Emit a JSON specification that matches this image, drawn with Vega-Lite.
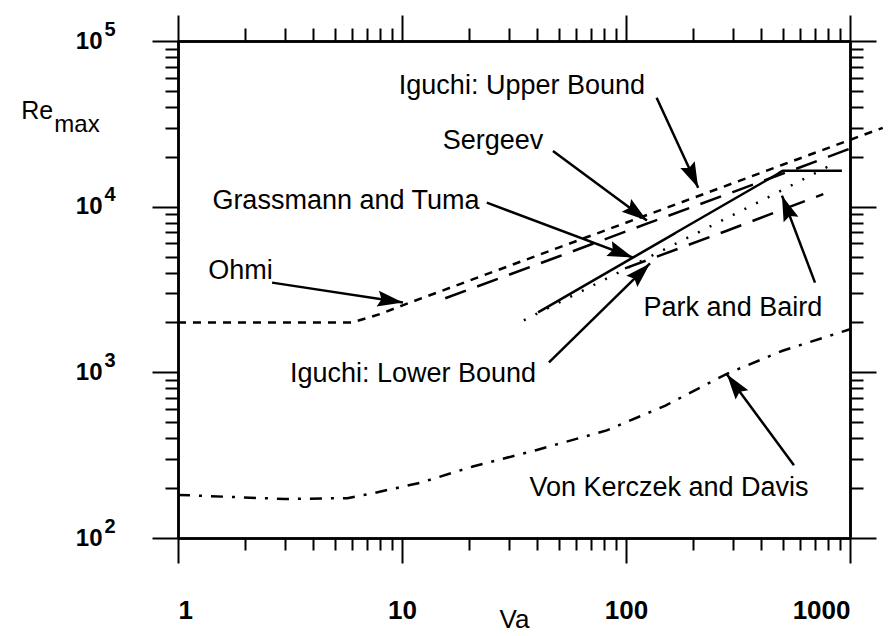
{
  "$schema": "https://vega.github.io/schema/vega-lite/v6.json",
  "width": 672,
  "height": 497,
  "autosize": "none",
  "padding": {"left": 178, "top": 41, "right": 42, "bottom": 98},
  "background": "white",
  "config": {
    "view": {"stroke": null},
    "axis": {"domainColor": "black", "domainWidth": 2.5, "tickColor": "black", "tickWidth": 2, "grid": false, "labelColor": "black", "labelFont": "Liberation Sans", "labelFontWeight": "bold", "labelFontSize": 26, "titleColor": "black", "titleFont": "Liberation Sans", "titleFontWeight": "normal", "labelOverlap": false},
    "text": {"font": "Liberation Sans", "fontSize": 27, "color": "black"}
  },
  "datasets": {
    "curves": [
      {"series": "Ohmi", "Va": 1, "Re": 2000}, {"series": "Ohmi", "Va": 3, "Re": 2000}, {"series": "Ohmi", "Va": 6, "Re": 2000}, {"series": "Ohmi", "Va": 8, "Re": 2250}, {"series": "Ohmi", "Va": 10, "Re": 2530}, {"series": "Ohmi", "Va": 20, "Re": 3580}, {"series": "Ohmi", "Va": 50, "Re": 5660}, {"series": "Ohmi", "Va": 100, "Re": 8000}, {"series": "Ohmi", "Va": 200, "Re": 11300}, {"series": "Ohmi", "Va": 500, "Re": 17900}, {"series": "Ohmi", "Va": 1000, "Re": 25300}, {"series": "Ohmi", "Va": 1400, "Re": 29900},
      {"series": "Sergeev", "Va": 15.6, "Re": 2800}, {"series": "Sergeev", "Va": 50, "Re": 5000}, {"series": "Sergeev", "Va": 124, "Re": 7900}, {"series": "Sergeev", "Va": 300, "Re": 12250}, {"series": "Sergeev", "Va": 580, "Re": 17000}, {"series": "Sergeev", "Va": 1000, "Re": 22400},
      {"series": "Iguchi: Lower Bound", "Va": 99, "Re": 4240}, {"series": "Iguchi: Lower Bound", "Va": 282, "Re": 7160}, {"series": "Iguchi: Lower Bound", "Va": 760, "Re": 11900},
      {"series": "Park and Baird", "Va": 35, "Re": 2060}, {"series": "Park and Baird", "Va": 107, "Re": 4420}, {"series": "Park and Baird", "Va": 426, "Re": 11300}, {"series": "Park and Baird", "Va": 814, "Re": 17700},
      {"series": "Grassmann and Tuma", "Va": 40.5, "Re": 2300}, {"series": "Grassmann and Tuma", "Va": 503, "Re": 16500}, {"series": "Grassmann and Tuma", "Va": 920, "Re": 16500},
      {"series": "Von Kerczek and Davis", "Va": 1, "Re": 182}, {"series": "Von Kerczek and Davis", "Va": 3, "Re": 172}, {"series": "Von Kerczek and Davis", "Va": 5.7, "Re": 174}, {"series": "Von Kerczek and Davis", "Va": 7.5, "Re": 187}, {"series": "Von Kerczek and Davis", "Va": 12, "Re": 215}, {"series": "Von Kerczek and Davis", "Va": 20.7, "Re": 270}, {"series": "Von Kerczek and Davis", "Va": 40, "Re": 340}, {"series": "Von Kerczek and Davis", "Va": 82, "Re": 446}, {"series": "Von Kerczek and Davis", "Va": 150, "Re": 630}, {"series": "Von Kerczek and Davis", "Va": 282, "Re": 980}, {"series": "Von Kerczek and Davis", "Va": 500, "Re": 1350}, {"series": "Von Kerczek and Davis", "Va": 1000, "Re": 1820}
    ],
    "labels": [
      {"label": "Iguchi: Upper Bound", "Va": 34.3, "Re": 53600},
      {"label": "Sergeev", "Va": 25.5, "Re": 25000},
      {"label": "Grassmann and Tuma", "Va": 5.62, "Re": 10870},
      {"label": "Ohmi", "Va": 1.9, "Re": 4110},
      {"label": "Park and Baird", "Va": 300, "Re": 2430},
      {"label": "Iguchi: Lower Bound", "Va": 11.2, "Re": 973},
      {"label": "Von Kerczek and Davis", "Va": 155.6, "Re": 200}
    ],
    "arrows": [
      {"label": "Sergeev", "x1": 47.2, "y1": 21700, "x2": 124, "y2": 8240},
      {"label": "Iguchi: Upper Bound", "x1": 137, "y1": 45400, "x2": 210, "y2": 13000},
      {"label": "Grassmann and Tuma", "x1": 23.9, "y1": 10570, "x2": 107.5, "y2": 4930},
      {"label": "Iguchi: Lower Bound", "x1": 45.3, "y1": 1148, "x2": 128, "y2": 4540},
      {"label": "Park and Baird", "x1": 698, "y1": 3480, "x2": 497, "y2": 11650},
      {"label": "Von Kerczek and Davis", "x1": 562, "y1": 275, "x2": 282, "y2": 973},
      {"label": "Ohmi", "x1": 2.63, "y1": 3480, "x2": 10.1, "y2": 2640}
    ],
    "ytitle": [
      {"part": "Re", "Va": 0.235, "Re": 37800},
      {"part": "max", "Va": 0.354, "Re": 31200}
    ]
  },
  "layer": [
    {
      "data": {"name": "curves"},
      "mark": {"type": "line", "color": "black", "strokeWidth": 2.5},
      "encoding": {
        "x": {"field": "Va", "type": "quantitative", "scale": {"type": "log", "domain": [1, 1000], "nice": false},
          "axis": {"orient": "bottom", "values": [1, 10, 100, 1000], "tickSize": 25, "labelPadding": 34, "labelBaseline": "top", "labelExpr": "'' + datum.value", "title": "Va", "titleFontSize": 26, "titleY": 89, "titleBaseline": "alphabetic"}},
        "y": {"field": "Re", "type": "quantitative", "scale": {"type": "log", "domain": [100, 100000], "nice": false},
          "axis": {"orient": "left", "values": [100, 1000, 10000, 100000], "tickSize": 26, "labelPadding": 50, "labelFontSize": 24, "labelBaseline": "middle", "title": null, "labelExpr": "'10'"}},
        "detail": {"field": "series"},
        "strokeDash": {"field": "series", "type": "nominal", "legend": null,
          "scale": {"domain": ["Ohmi", "Sergeev", "Iguchi: Lower Bound", "Park and Baird", "Grassmann and Tuma", "Von Kerczek and Davis"],
            "range": [[8, 7], [22, 12], [22, 12], [2, 11], [1, 0], [12, 9, 3, 9]]}}
      }
    },
    {
      "data": {"name": "labels"},
      "mark": {"type": "text", "align": "center", "baseline": "middle"},
      "encoding": {
        "x": {"field": "Va", "type": "quantitative", "scale": {"type": "log", "domain": [1, 1000], "nice": false},
          "axis": {"orient": "bottom", "values": [2, 3, 4, 5, 6, 7, 8, 9, 20, 30, 40, 50, 60, 70, 80, 90, 200, 300, 400, 500, 600, 700, 800, 900], "tickSize": 12, "labels": false, "title": null}},
        "y": {"field": "Re", "type": "quantitative", "scale": {"type": "log", "domain": [100, 100000], "nice": false},
          "axis": {"orient": "left", "values": [200, 300, 400, 500, 600, 700, 800, 900, 2000, 3000, 4000, 5000, 6000, 7000, 8000, 9000, 20000, 30000, 40000, 50000, 60000, 70000, 80000, 90000], "tickSize": 13, "labels": false, "title": null}},
        "text": {"field": "label"}
      }
    },
    {
      "data": {"name": "arrows"},
      "mark": {"type": "rule", "color": "black", "strokeWidth": 2.5},
      "encoding": {
        "x": {"field": "x1", "type": "quantitative", "scale": {"type": "log", "domain": [1, 1000], "nice": false},
          "axis": {"orient": "top", "values": [1, 10, 100, 1000], "tickSize": 26, "labels": false, "title": null}},
        "y": {"field": "y1", "type": "quantitative", "scale": {"type": "log", "domain": [100, 100000], "nice": false},
          "axis": {"orient": "right", "values": [100, 1000, 10000, 100000], "tickSize": 26, "labels": false, "title": null}},
        "x2": {"field": "x2"},
        "y2": {"field": "y2"}
      }
    },
    {
      "data": {"name": "arrows"},
      "transform": [
        {"calculate": "atan2((log(datum.x2) - log(datum.x1)) / LN10 * 224, (log(datum.y2) - log(datum.y1)) / LN10 * 166) * 180 / PI", "as": "ang"}
      ],
      "mark": {"type": "point", "shape": "M0,0L-0.62,2L0,1.7L0.62,2Z", "filled": true, "color": "black", "opacity": 1, "size": 650},
      "encoding": {
        "x": {"field": "x2", "type": "quantitative", "scale": {"type": "log", "domain": [1, 1000], "nice": false},
          "axis": {"orient": "top", "values": [2, 3, 4, 5, 6, 7, 8, 9, 20, 30, 40, 50, 60, 70, 80, 90, 200, 300, 400, 500, 600, 700, 800, 900], "tickSize": 13, "labels": false, "title": null}},
        "y": {"field": "y2", "type": "quantitative", "scale": {"type": "log", "domain": [100, 100000], "nice": false},
          "axis": {"orient": "right", "values": [200, 300, 400, 500, 600, 700, 800, 900, 2000, 3000, 4000, 5000, 6000, 7000, 8000, 9000, 20000, 30000, 40000, 50000, 60000, 70000, 80000, 90000], "tickSize": 13, "labels": false, "title": null}},
        "angle": {"field": "ang", "type": "quantitative", "scale": null}
      }
    },
    {
      "data": {"name": "ytitle"},
      "transform": [{"filter": "datum.part == 'Re'"}],
      "mark": {"type": "text", "align": "center", "baseline": "middle", "fontSize": 25},
      "encoding": {
        "x": {"field": "Va", "type": "quantitative", "scale": {"type": "log", "domain": [1, 1000], "nice": false}, "axis": null},
        "y": {"field": "Re", "type": "quantitative", "scale": {"type": "log", "domain": [100, 100000], "nice": false},
          "axis": {"orient": "left", "values": [100, 1000, 10000, 100000], "ticks": false, "tickSize": 0, "domain": false, "labelPadding": 74, "labelAlign": "left", "labelBaseline": "middle", "labelOffset": -12, "labelFontSize": 20, "title": null,
            "labelExpr": "'' + round(log(datum.value)/LN10)"}},
        "text": {"field": "part"}
      }
    },
    {
      "data": {"name": "ytitle"},
      "transform": [{"filter": "datum.part == 'max'"}],
      "mark": {"type": "text", "align": "center", "baseline": "middle", "fontSize": 24},
      "encoding": {
        "x": {"field": "Va", "type": "quantitative", "scale": {"type": "log", "domain": [1, 1000], "nice": false}, "axis": null},
        "y": {"field": "Re", "type": "quantitative", "scale": {"type": "log", "domain": [100, 100000], "nice": false}, "axis": null},
        "text": {"field": "part"}
      }
    }
  ],
  "resolve": {"axis": {"x": "independent", "y": "independent"}}
}
